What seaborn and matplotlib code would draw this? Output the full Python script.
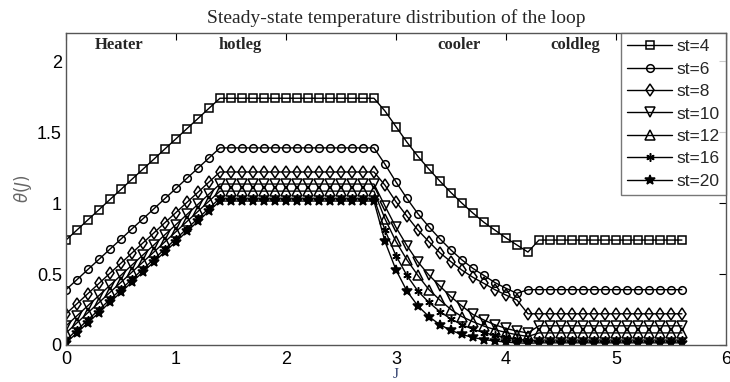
import matplotlib
matplotlib.use("Agg")
import matplotlib.pyplot as plt
import seaborn as sns
import pandas as pd

J = [0.0, 0.1, 0.2, 0.3, 0.4, 0.5, 0.6, 0.7, 0.8, 0.9, 1.0, 1.1, 1.2, 1.3, 1.4,
     1.5, 1.6, 1.7, 1.8, 1.9, 2.0, 2.1, 2.2, 2.3, 2.4, 2.5, 2.6, 2.7, 2.8,
     2.9, 3.0, 3.1, 3.2, 3.3, 3.4, 3.5, 3.6, 3.7, 3.8, 3.9, 4.0, 4.1, 4.2,
     4.3, 4.4, 4.5, 4.6, 4.7, 4.8, 4.9, 5.0, 5.1, 5.2, 5.3, 5.4, 5.5, 5.6]

st4 = ([0.74, 0.811, 0.883, 0.954, 1.026, 1.097, 1.169, 1.24, 1.311, 1.383, 1.454, 1.526, 1.597, 1.669, 1.74]
       + [1.74] * 14
       + [1.65, 1.54, 1.43, 1.33, 1.24, 1.155, 1.075, 1.0, 0.93, 0.865, 0.81, 0.755, 0.705, 0.655]
       + [0.74] * 14)
st6 = ([0.39, 0.461, 0.533, 0.604, 0.676, 0.747, 0.819, 0.89, 0.961, 1.033, 1.104, 1.176, 1.247, 1.319, 1.39]
       + [1.39] * 14
       + [1.275, 1.15, 1.033, 0.925, 0.833, 0.748, 0.67, 0.6, 0.54, 0.49, 0.44, 0.4, 0.364]
       + [0.39] * 15)
st8 = ([0.22, 0.291, 0.363, 0.434, 0.506, 0.577, 0.649, 0.72, 0.791, 0.863, 0.934, 1.006, 1.077, 1.149, 1.22]
       + [1.22] * 14
       + [1.127, 1.01, 0.908, 0.81, 0.728, 0.65, 0.587, 0.528, 0.477, 0.434, 0.39, 0.352, 0.317]
       + [0.22] * 15)
st10 = ([0.135, 0.206, 0.278, 0.349, 0.421, 0.492, 0.564, 0.635, 0.706, 0.778, 0.849, 0.921, 0.992, 1.064, 1.135]
        + [1.135] * 14
        + [0.98, 0.83, 0.70, 0.585, 0.493, 0.415, 0.34, 0.275, 0.215, 0.176, 0.142, 0.117, 0.098, 0.085]
        + [0.135] * 14)
st12 = ([0.085, 0.156, 0.228, 0.299, 0.371, 0.442, 0.514, 0.585, 0.656, 0.728, 0.799, 0.871, 0.942, 1.014, 1.085]
        + [1.085] * 14
        + [0.89, 0.73, 0.6, 0.49, 0.39, 0.317, 0.25, 0.2, 0.164, 0.133, 0.108, 0.088, 0.072, 0.06]
        + [0.085] * 14)
st16 = ([0.035, 0.106, 0.178, 0.249, 0.321, 0.392, 0.464, 0.535, 0.606, 0.678, 0.749, 0.821, 0.892, 0.964, 1.035]
        + [1.035] * 14
        + [0.81, 0.63, 0.49, 0.38, 0.3, 0.235, 0.183, 0.143, 0.111, 0.087, 0.068, 0.053, 0.041, 0.032]
        + [0.035] * 14)
st20 = ([0.015, 0.086, 0.158, 0.229, 0.301, 0.372, 0.444, 0.515, 0.586, 0.658, 0.729, 0.801, 0.872, 0.944, 1.015]
        + [1.015] * 14
        + [0.73, 0.53, 0.38, 0.275, 0.2, 0.143, 0.103, 0.074, 0.053, 0.038, 0.028, 0.02, 0.015, 0.012]
        + [0.015] * 14)

series_labels = ["st=4", "st=6", "st=8", "st=10", "st=12", "st=16", "st=20"]
series_values = [st4, st6, st8, st10, st12, st16, st20]
region_labels = ["Heater", "hotleg", "cooler", "coldleg"]
region_pos = [0.48, 1.58, 3.57, 4.63]
x_ticks = [0, 1, 2, 3, 4, 5, 6]
y_ticks = [0, 0.5, 1, 1.5, 2]
y_ticklabels = ["0", "0.5", "1", "1.5", "2"]

sns.set_style("white")
plt.rcParams["font.family"] = ["Liberation Sans", "DejaVu Sans"]

fig = plt.figure(figsize=(7.3, 3.82), dpi=100)
ax = fig.add_axes([0.0904, 0.0969, 0.904, 0.8167])

markers = ["s", "o", "d", "v", "^", (6, 2, 0), "*"]
msizes = [6, 5.5, 6, 7, 7, 6, 7]
fills = ["none", "none", "none", "none", "none", "none", "black"]

for lab, vals, m, ms, fc in zip(series_labels, series_values, markers, msizes, fills):
    df = pd.DataFrame({"J": J, "theta": vals})
    sns.lineplot(data=df, x="J", y="theta", ax=ax, color="black", lw=1.0,
                 marker=m, markersize=ms, markerfacecolor=fc,
                 markeredgecolor="black", markeredgewidth=1.1, label=lab)

ax.set_xlim(0, 6)
ax.set_ylim(0, 2.2)
ax.set_xticks(x_ticks)
ax.set_xticklabels([str(t) for t in x_ticks])
ax.set_yticks(y_ticks)
ax.set_yticklabels(y_ticklabels)
ax.tick_params(direction="in", length=5, width=0.8, top=True, right=True,
               labelsize=13, pad=3, colors="black")
ax.tick_params(axis="x", pad=4)
for s in ax.spines.values():
    s.set_color("#555555")
    s.set_linewidth(1.0)

ax.set_title("Steady-state temperature distribution of the loop",
             family="Liberation Serif", fontsize=14, pad=7)
ax.set_xlabel("J", family="Liberation Serif", fontsize=11, color="#2a3a6a", labelpad=0)
ax.set_ylabel(r"$\theta(J)$", fontsize=12, color="#666666", labelpad=2)

for t, p in zip(region_labels, region_pos):
    ax.text(p, 0.962, t, transform=ax.get_xaxis_transform(), ha="center", va="center",
            family="Liberation Serif", fontweight="bold", fontsize=12)

leg = ax.legend(loc="upper right", borderaxespad=0, fontsize=12.5, frameon=True,
                fancybox=False, edgecolor="#555555", handlelength=2.6,
                handletextpad=0.25, labelspacing=0.42, borderpad=0.35)
leg.get_frame().set_linewidth(1.0)

fig.savefig("out.png", dpi=100)
